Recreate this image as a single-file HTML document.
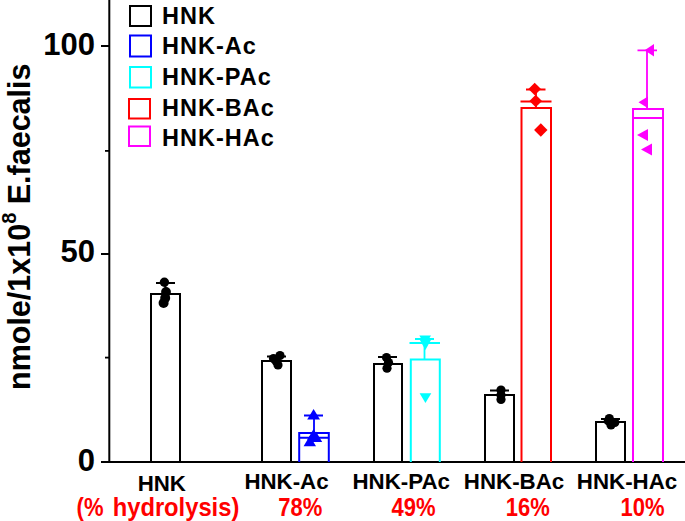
<!DOCTYPE html>
<html><head><meta charset="utf-8">
<style>
html,body{margin:0;padding:0;background:#fff;}
body{width:685px;height:521px;overflow:hidden;position:relative;}
svg{position:absolute;left:0;top:0;}
text{font-family:"Liberation Sans",sans-serif;font-weight:bold;}
</style></head>
<body>
<svg width="685" height="521" viewBox="0 0 685 521">
<!-- axes -->
<rect x="108.3" y="0" width="2" height="463" fill="#000"/>
<rect x="101" y="461" width="584" height="2" fill="#000"/>
<rect x="101" y="45" width="8" height="2" fill="#000"/>
<rect x="101" y="253" width="8" height="2" fill="#000"/>
<rect x="105" y="150" width="4" height="1.8" fill="#000"/>
<rect x="105" y="356.7" width="4" height="1.8" fill="#000"/>
<!-- tick labels -->
<g font-size="31" text-anchor="end" fill="#000">
<text x="95" y="55">100</text>
<text x="95" y="261.5">50</text>
<text x="95" y="470.5">0</text>
</g>
<!-- y label -->
<text transform="translate(29.5,390) rotate(-90)" font-size="30.5" fill="#000">nmole/1x10<tspan font-size="20" dy="-13.5">8</tspan><tspan dy="13.5"> E.faecalis</tspan></text>

<!-- legend -->
<g fill="none" stroke-width="2">
<rect x="130" y="6" width="21" height="20" stroke="#000"/>
<rect x="130" y="35.5" width="21" height="21" stroke="#00f"/>
<rect x="130" y="67" width="21" height="20.5" stroke="#0ff"/>
<rect x="129" y="99" width="21" height="19.5" stroke="#f00"/>
<rect x="129" y="126.5" width="21" height="19.5" stroke="#f0f"/>
</g>
<g font-size="23.5" fill="#000" letter-spacing="1">
<text x="162" y="23.7">HNK</text>
<text x="162" y="53.7">HNK-Ac</text>
<text x="162" y="84.7">HNK-PAc</text>
<text x="162" y="115.9">HNK-BAc</text>
<text x="162" y="145.6">HNK-HAc</text>
</g>

<!-- bars -->
<g fill="none" stroke-width="2">
<path d="M151 462V294H180V462" stroke="#000"/>
<path d="M262 462V361H291V462" stroke="#000"/>
<path d="M299.2 462V433H328.8V462M299.2 437.7H328.8" stroke="#00f"/>
<path d="M374 462V364H402V462" stroke="#000"/>
<path d="M410.8 462V359.4H439.8V462" stroke="#0ff"/>
<path d="M485 462V395H514V462" stroke="#000"/>
<path d="M521.5 462V108H551V462" stroke="#f00"/>
<path d="M596 462V422H625V462" stroke="#000"/>
<path d="M633 462V109H663V462M633 117.9H663" stroke="#f0f"/>
</g>
<!-- error bars -->
<g stroke-width="1.8" fill="none">
<path d="M165.5 294V283M156 283H175" stroke="#000"/>
<path d="M276.5 361V356.5M267 356.5H286" stroke="#000"/>
<path d="M314 433V415.5M304 415.5H323" stroke="#00f"/>
<path d="M388 364V357M378 357H397" stroke="#000"/>
<path d="M424.5 360V343M409.5 343H440M415 339H434" stroke="#0ff"/>
<path d="M499.5 395V390.5M490 390.5H509" stroke="#000"/>
<path d="M536 108V89.5M520.5 101.5H551.5M526 89.5H545.5" stroke="#f00"/>
<path d="M610.5 422V419M601 419H620" stroke="#000"/>
<path d="M647 110V50.3M637.5 50.3H657" stroke="#f0f"/>
</g>
<!-- points -->
<g fill="#000">
<circle cx="164.4" cy="282.2" r="4.7"/>
<circle cx="166" cy="292" r="4.9"/>
<circle cx="165.2" cy="298" r="5"/>
<circle cx="163.6" cy="303" r="5"/>
<circle cx="280" cy="355.5" r="4.6"/>
<circle cx="273.5" cy="358.5" r="4.6"/>
<circle cx="276" cy="361" r="4.6"/>
<circle cx="278" cy="365" r="4.6"/>
<circle cx="386.5" cy="357.5" r="4.6"/>
<circle cx="388.5" cy="362.5" r="4.6"/>
<circle cx="387" cy="368.2" r="4.6"/>
<circle cx="501" cy="390" r="4.6"/>
<circle cx="501" cy="395" r="4.6"/>
<circle cx="501" cy="399.5" r="4.6"/>
<circle cx="609.3" cy="418.6" r="4.6"/>
<circle cx="608" cy="421" r="4.3"/>
<circle cx="614.8" cy="422.5" r="4.6"/>
<circle cx="611" cy="425" r="4.6"/>
</g>
<g fill="#00f">
<path d="M313.6 409L320 419.5H307.2Z"/>
<path d="M313.5 429L319.8 440H307.2Z"/>
<path d="M316 431.5L322.2 442H309.8Z"/>
<path d="M309.8 435.7L316 446.3H303.6Z"/>
</g>
<g fill="#0ff">
<path d="M419.3 335.4H431L425.1 345.3Z"/>
<path d="M419.6 339.5H431.2L425.4 350Z"/>
<path d="M419.6 393.2H431.3L425.45 403Z"/>
</g>
<g fill="#f00">
<path d="M534.7 82.7L541 89L534.7 95.3L528.4 89Z"/>
<path d="M535.7 94.7L542 101L535.7 107.3L529.4 101Z"/>
<path d="M540.8 123.3L547.5 130L540.8 136.7L534.1 130Z"/>
</g>
<g fill="#f0f">
<path d="M644.6 50.3L654 44V56.4Z"/>
<path d="M638.5 102.3L648 96.5V108.3Z"/>
<path d="M637 135L648 129V141Z"/>
<path d="M641 149.5L652 143.5V155.5Z"/>
</g>

<!-- x labels -->
<g font-size="22.3" fill="#000" text-anchor="middle">
<text x="161.8" y="490.5">HNK</text>
<text x="286.5" y="489">HNK-Ac</text>
<text x="401.2" y="489">HNK-PAc</text>
<text x="514" y="489">HNK-BAc</text>
<text x="627" y="489">HNK-HAc</text>
</g>
<g font-size="22" fill="#f00" text-anchor="middle">
<text transform="translate(90,515.5) scale(1,1.13)">(%</text>
<text transform="translate(176,515.5) scale(1.08,1.13)">hydrolysis)</text>
<text transform="translate(300.3,515.5) scale(1,1.13)">78%</text>
<text transform="translate(413.6,515.5) scale(1,1.13)">49%</text>
<text transform="translate(527.7,515.5) scale(1,1.13)">16%</text>
<text transform="translate(642.5,515.5) scale(1,1.13)">10%</text>
</g>
</svg>
</body></html>
